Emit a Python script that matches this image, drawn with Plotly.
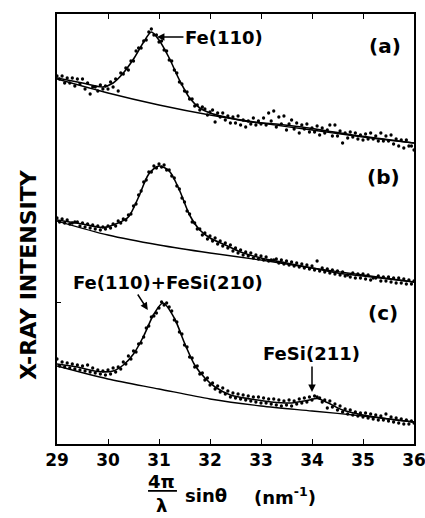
import numpy as np
import plotly.graph_objects as go

# Scan grid in 4π/λ·sinθ (nm⁻¹), one reading every 0.05
scan_x = np.round(np.arange(29.0, 36.0 + 1e-9, 0.05), 2)

# Measured intensities (arbitrary units, curves stacked with offsets)
dots_a = [
    368, 365, 368, 361, 366, 361, 366, 358, 365, 360,
    365, 355, 361, 350, 357, 357, 353, 359, 355, 358,
    355, 362, 357, 365, 353, 371, 370, 376, 374, 383,
    383, 393, 396, 396, 403, 404, 412, 415, 409, 409,
    402, 403, 394, 393, 384, 383, 374, 371, 362, 360,
    353, 352, 345, 345, 338, 339, 334, 337, 335, 329,
    332, 334, 322, 331, 327, 331, 324, 328, 321, 327,
    321, 328, 319, 324, 317, 323, 320, 326, 319, 323,
    320, 326, 319, 331, 323, 333, 317, 327, 320, 328,
    314, 320, 324, 315, 321, 311, 319, 315, 320, 312,
    316, 312, 318, 309, 316, 311, 314, 319, 308, 319,
    308, 313, 301, 311, 306, 312, 307, 311, 305, 309,
    304, 310, 305, 311, 305, 308, 303, 311, 303, 308,
    303, 309, 300, 305, 298, 304, 296, 304, 298, 298,
    294,
]
dots_b = [
    226, 222, 225, 221, 224, 220, 221, 222, 222, 218,
    221, 217, 220, 216, 219, 215, 218, 214, 217, 215,
    218, 216, 220, 218, 223, 221, 225, 224, 229, 230,
    238, 240, 249, 253, 262, 264, 272, 272, 278, 276,
    280, 277, 279, 274, 274, 268, 266, 258, 255, 246,
    242, 233, 230, 222, 221, 215, 215, 209, 211, 205,
    208, 203, 206, 200, 203, 198, 201, 196, 199, 193,
    196, 191, 194, 189, 192, 188, 191, 186, 189, 185,
    188, 184, 187, 183, 184, 184, 185, 181, 184, 180,
    183, 179, 182, 178, 181, 177, 180, 176, 179, 175,
    178, 174, 183, 173, 176, 172, 175, 171, 174, 170,
    173, 169, 172, 168, 169, 167, 171, 166, 170, 166,
    170, 165, 169, 164, 166, 166, 168, 163, 167, 163,
    167, 162, 166, 161, 166, 161, 165, 160, 164, 160,
    163,
]
dots_c = [
    85, 78, 82, 77, 81, 76, 80, 75, 79, 74,
    78, 73, 79, 72, 76, 71, 74, 70, 73, 69,
    74, 70, 76, 72, 77, 75, 82, 80, 88, 85,
    93, 92, 100, 101, 107, 116, 118, 127, 128, 131,
    136, 142, 139, 141, 137, 133, 124, 122, 112, 110,
    99, 97, 87, 86, 77, 78, 70, 71, 64, 66,
    59, 61, 55, 58, 52, 56, 50, 53, 47, 51,
    46, 50, 45, 49, 44, 48, 43, 47, 42, 47,
    41, 46, 41, 45, 40, 45, 39, 44, 38, 43,
    39, 44, 38, 43, 40, 45, 41, 46, 42, 47,
    44, 48, 47, 46, 42, 44, 36, 43, 37, 40,
    34, 38, 32, 35, 30, 34, 29, 32, 28, 31,
    27, 31, 26, 30, 25, 29, 24, 28, 24, 30,
    23, 27, 22, 26, 21, 25, 20, 24, 20, 23,
    21,
]

# Fitted profiles
fit_a_x = [29.0, 29.5, 29.9, 30.1, 30.3, 30.5, 30.7, 30.85, 31.0, 31.2, 31.4,
           31.6, 31.8, 32.0, 32.3, 32.8, 33.3, 33.8, 34.3, 34.8, 35.4, 36.0]
fit_a_y = [366, 361, 357, 361, 371, 385, 402, 412, 404, 386, 364,
           346, 336, 331, 327, 322, 320, 317, 313, 309, 305, 301]
fit_b_x = [29.0, 29.5, 29.9, 30.2, 30.4, 30.6, 30.8, 31.0, 31.2, 31.4, 31.6,
           31.8, 32.0, 32.3, 32.6, 33.0, 33.5, 34.0, 34.5, 35.0, 35.5, 36.0]
fit_b_y = [224, 220, 216.5, 221, 227, 247, 270, 278, 273, 254, 229,
           214, 206, 199, 192, 186, 181, 176, 171, 168, 165, 162]
fit_c_x = [29.0, 29.4, 29.8, 30.1, 30.3, 30.5, 30.7, 30.9, 31.08, 31.3, 31.5,
           31.7, 31.9, 32.1, 32.4, 32.8, 33.2, 33.6, 33.9, 34.1, 34.3, 34.6,
           35.0, 35.5, 36.0]
fit_c_y = [80, 77, 72.5, 73, 79, 90, 108, 130, 141, 126, 101,
           79, 66, 57, 49, 45, 42, 41, 43.5, 45.5, 41.5, 34,
           29, 25, 22]

# Backgrounds under each profile
bg_x = [29, 30, 31, 32, 33, 34, 35, 36]
bg_a = [365, 351, 339, 329, 321, 314, 307, 301]
bg_b = [223, 209, 199, 191, 184, 176, 169, 162]
bg_c = [78, 65, 55, 45, 38, 33, 28, 22]

x_ticks = [29, 30, 31, 32, 33, 34, 35, 36]

FONT = "DejaVu Sans"

fig = go.Figure()

for dots in (dots_a, dots_b, dots_c):
    assert len(dots) == len(scan_x)
    fig.add_trace(go.Scatter(x=scan_x, y=dots, mode="markers",
                             marker=dict(color="black", size=3.3),
                             showlegend=False, hoverinfo="skip"))

for fx, fy in ((fit_a_x, fit_a_y), (fit_b_x, fit_b_y), (fit_c_x, fit_c_y)):
    fig.add_trace(go.Scatter(x=fx, y=fy, mode="lines",
                             line=dict(color="black", width=1.6, shape="spline", smoothing=0.8),
                             showlegend=False, hoverinfo="skip"))

for by in (bg_a, bg_b, bg_c):
    fig.add_trace(go.Scatter(x=bg_x, y=by, mode="lines",
                             line=dict(color="black", width=1.3, shape="spline", smoothing=0.8),
                             showlegend=False, hoverinfo="skip"))

lab = dict(family=FONT, size=18, color="black", weight="bold")
letter = dict(family=FONT, size=20, color="black", weight="bold")
mid = dict(xanchor="center", yanchor="middle", showarrow=False)

annotations = [
    # peak labels
    dict(x=30.96, y=407, xref="x", yref="y", text="Fe(110)", showarrow=True,
         ax=67, ay=0, arrowhead=2, arrowsize=1, arrowwidth=1.5, arrowcolor="black",
         font=lab),
    dict(x=31.17, y=162, xref="x", yref="y", text="Fe(110)+FeSi(210)", font=lab, **mid),
    dict(x=30.78, y=134, xref="x", yref="y", text="", showarrow=True,
         ax=-11, ay=-17, arrowhead=2, arrowsize=1, arrowwidth=1.5, arrowcolor="black"),
    dict(x=33.99, y=91, xref="x", yref="y", text="FeSi(211)", font=lab, **mid),
    dict(x=34.0, y=52, xref="x", yref="y", text="", showarrow=True,
         ax=0, ay=-27, arrowhead=2, arrowsize=1, arrowwidth=1.5, arrowcolor="black"),
    # panel letters
    dict(x=35.43, y=398, xref="x", yref="y", text="(a)", font=letter, **mid),
    dict(x=35.41, y=267, xref="x", yref="y", text="(b)", font=letter, **mid),
    dict(x=35.39, y=131, xref="x", yref="y", text="(c)", font=letter, **mid),
    # y-axis title
    dict(x=-0.081, y=0.393, xref="paper", yref="paper", text="X-RAY INTENSITY",
         textangle=-90, font=dict(family=FONT, size=22, color="black", weight="bold"), **mid),
    # x-axis title built as a fraction
    dict(x=0.294, y=-0.088, xref="paper", yref="paper", text="4π", font=lab, **mid),
    dict(x=0.294, y=-0.142, xref="paper", yref="paper", text="λ", font=lab, **mid),
    dict(x=0.417, y=-0.119, xref="paper", yref="paper", text="sinθ", font=lab, **mid),
    dict(x=0.639, y=-0.121, xref="paper", yref="paper", text="(nm<sup>-1</sup>)",
         font=lab, **mid),
]

fig.update_layout(
    width=425, height=518,
    margin=dict(l=57, r=11, t=14, b=74, autoexpand=False),
    paper_bgcolor="white", plot_bgcolor="white",
    annotations=annotations,
    shapes=[dict(type="line", xref="paper", yref="paper",
                 x0=0.255, x1=0.336, y0=-0.109, y1=-0.109,
                 line=dict(color="black", width=1.8))],
)

fig.update_xaxes(range=[29, 36], tickvals=x_ticks, ticktext=[str(t) for t in x_ticks],
                 ticks="inside", ticklen=5, tickwidth=1.3, tickcolor="black",
                 showline=True, linecolor="black", linewidth=1.5, mirror="ticks",
                 showgrid=False, zeroline=False, automargin=False,
                 ticklabeloverflow="allow",
                 tickfont=dict(family=FONT, size=17, color="black", weight="bold"))
fig.update_yaxes(range=[0, 430], tickvals=[142], ticks="inside", ticklen=4,
                 tickwidth=1.3, tickcolor="black", showticklabels=False,
                 showline=True, linecolor="black", linewidth=1.5, mirror=True,
                 showgrid=False, zeroline=False, automargin=False)

fig.write_html("out.html")
